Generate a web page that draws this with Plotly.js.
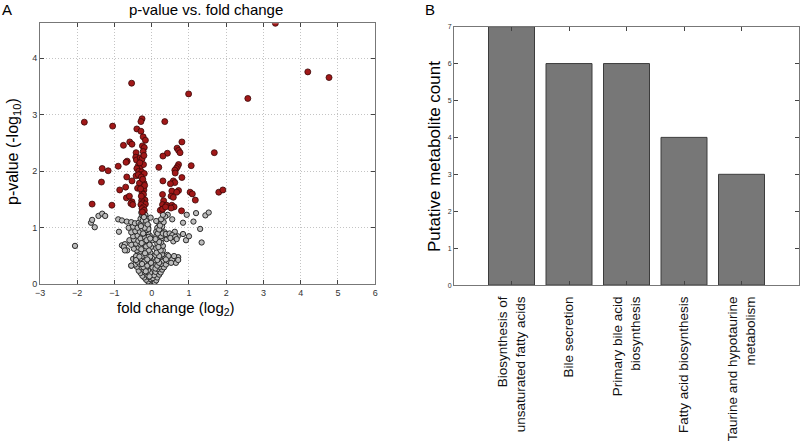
<!DOCTYPE html>
<html>
<head>
<meta charset="utf-8">
<script src="https://cdn.plot.ly/plotly-3.0.1.min.js"></script>
<style>html,body{margin:0;padding:0;background:#fff;}#chart{width:800px;height:444px;}</style>
</head>
<body>
<div id="chart"></div>
<script>
// Panel A: significant metabolites (red)
const sigFC = [3.32,4.19,4.76,-0.54,0.99,2.58,-1.81,-1.05,0.35,-0.26,-0.29,-0.40,-0.29,-0.23,
 0.81,-0.59,-0.53,-0.76,-0.25,-0.20,0.68,0.72,0.76,1.68,0.42,0.30,-0.42,-0.43,-0.41,-0.31,-0.26,
 -0.66,-0.69,-0.36,-0.31,-0.22,0.72,0.69,0.66,1.06,0.19,-0.90,-1.33,-1.17,-0.40,-0.35,-0.27,-0.30,-0.20,
 0.62,0.63,0.81,-0.67,-0.42,-0.36,-0.28,0.30,-0.53,-1.35,0.58,0.62,0.50,-0.27,-0.21,-0.33,
 -0.70,-0.38,-0.22,-0.86,0.54,0.72,0.67,0.29,1.03,1.09,0.52,0.58,-0.21,-0.26,-0.22,1.80,1.91,-0.68,-0.60,-0.53,
 -0.25,-0.18,-0.27,0.32,0.29,0.40,0.28,1.17,-0.56,-0.51,-1.60,-1.07,0.54,0.60,0.52,-0.24,-0.17,-0.29,-0.22,-0.26,-0.20,-0.25,
 0.80,0.23,0.29,0.37,-0.17,-0.32,-0.24,-0.19,-0.28,-0.23,-0.30,-0.21];
const sigP = [4.62,3.76,3.66,3.56,3.37,3.29,2.87,2.80,2.88,2.93,2.88,2.75,2.71,2.61,
 2.52,2.52,2.48,2.46,2.45,2.42,2.41,2.37,2.33,2.33,2.32,2.27,2.33,2.25,2.20,2.24,2.22,
 2.18,2.16,2.10,2.07,2.12,2.12,2.08,2.05,2.10,2.07,2.09,2.05,2.01,2.05,2.00,1.99,1.94,1.96,
 2.02,1.97,1.89,1.90,1.92,1.94,1.90,1.83,1.83,1.81,1.83,1.80,1.78,1.81,1.79,1.79,
 1.72,1.70,1.73,1.67,1.65,1.66,1.63,1.59,1.63,1.60,1.56,1.54,1.67,1.62,1.59,1.63,1.67,1.53,1.56,1.46,
 1.52,1.49,1.48,1.48,1.41,1.40,1.33,1.49,1.43,1.41,1.42,1.40,1.40,1.37,1.35,1.44,1.42,1.41,1.37,1.34,1.31,1.28,
 1.30,1.31,1.33,1.37,2.55,2.15,1.86,1.75,1.56,2.35,1.69,2.28];

// Panel A: non-significant metabolites (grey)
const nsFC = [-0.05,0.00,0.05,-0.10,0.08,-0.15,0.12,-0.02,0.03,-0.20,-0.08,0.15,-0.25,-0.12,0.06,0.20,-0.30,-0.18,-0.04,0.10,0.24,-0.35,-0.22,-0.10,0.16,0.28,-0.28,-0.15,0.02,0.22,0.33,-0.40,
 -0.45,-0.32,-0.20,-0.08,0.12,0.25,0.38,-0.38,-0.25,-0.13,-0.02,0.18,0.30,0.45,0.58,-0.50,-0.42,-0.30,-0.18,-0.06,0.14,0.22,0.35,0.50,0.71,-0.35,-0.22,-0.10,0.10,0.20,0.28,0.42,0.65,0.71,-0.55,-0.28,-0.15,-0.04,0.16,0.30,-0.40,
 -0.80,-0.72,-0.75,-0.66,-0.72,-0.48,-0.35,-0.24,-0.12,-0.02,0.12,0.22,0.30,-0.55,-0.42,-0.30,-0.18,-0.08,0.15,0.25,0.58,-0.60,-0.48,-0.36,-0.24,-0.12,0.02,0.18,0.28,0.40,0.65,0.92,1.34,-0.88,-0.50,-0.38,-0.26,-0.16,-0.05,0.12,0.22,0.32,0.45,0.60,0.70,0.84,1.00,
 -0.55,-0.44,-0.32,-0.20,-0.10,0.12,0.25,0.35,0.62,1.30,-0.62,-0.50,-0.38,-0.27,-0.16,0.15,0.28,-1.53,-1.63,-1.60,-0.90,-0.80,-0.67,-0.55,-0.45,-0.35,-0.25,-0.15,0.20,0.32,0.55,0.84,1.12,-1.43,-1.33,-1.25,-0.30,-0.20,-0.12,0.25,0.43,0.36,0.94,1.19,1.44,1.53,-0.26,-0.17,-0.22,-0.28,0.30,-2.06,-0.55,-0.42,-0.42,
 -0.22,-0.12,-0.20,-0.08,-0.25,-0.14,-0.04,-0.20,-0.08,-0.28,-0.15,-0.22,-0.10,-0.30,-0.18,-0.08,-0.22,-0.13,-0.25,-0.10,-0.20,-0.30,-0.24,-0.15,
 0.10,0.15,0.20,0.15,0.20,0.13,0.24,0.18,0.20,0.10,0.25,0.16,0.20,0.22,0.12,
 0.45,0.55,0.60,0.52,0.38,0.30,0.38,0.48,0.55,0.63,0.67,0.50,
 -0.06,-0.16,-0.26,-0.02,-0.12,-0.33,-0.18,-0.06,-0.27,-0.14,-0.04,-0.23,-0.09,-0.19,-0.29,-0.11,-0.03,-0.21];
const nsP = [0.02,0.03,0.01,0.05,0.04,0.08,0.07,0.09,0.11,0.12,0.13,0.12,0.15,0.17,0.16,0.17,0.20,0.21,0.20,0.22,0.21,0.24,0.26,0.25,0.27,0.26,0.30,0.29,0.30,0.31,0.30,0.31,
 0.35,0.36,0.34,0.35,0.35,0.36,0.35,0.40,0.41,0.39,0.42,0.40,0.42,0.41,0.40,0.45,0.48,0.46,0.47,0.45,0.46,0.48,0.47,0.46,0.48,0.52,0.53,0.51,0.52,0.55,0.53,0.52,0.38,0.43,0.33,0.57,0.58,0.56,0.58,0.60,0.60,
 0.69,0.71,0.66,0.60,0.60,0.63,0.65,0.64,0.63,0.66,0.64,0.66,0.68,0.70,0.72,0.70,0.71,0.73,0.72,0.74,0.76,0.78,0.79,0.77,0.79,0.80,0.78,0.80,0.82,0.80,0.82,0.78,0.74,0.93,0.85,0.86,0.84,0.87,0.86,0.85,0.88,0.87,0.86,0.88,0.85,0.89,0.85,
 0.92,0.94,0.93,0.95,0.92,0.93,0.94,0.92,0.93,0.98,1.00,1.02,1.00,1.02,1.01,1.00,1.02,1.01,1.09,1.14,1.15,1.13,1.11,1.10,1.08,1.09,1.10,1.08,1.08,1.10,1.15,1.09,1.11,1.21,1.25,1.21,1.16,1.17,1.15,1.15,1.23,1.20,1.23,1.26,1.22,1.27,1.22,1.23,1.20,1.27,1.23,0.68,0.33,0.50,0.43,
 0.30,0.33,0.40,0.42,0.50,0.50,0.49,0.60,0.60,0.62,0.67,0.75,0.76,0.81,0.83,0.84,0.90,0.96,0.98,1.04,1.05,1.06,1.13,1.12,
 0.28,0.33,0.38,0.43,0.50,0.56,0.60,0.66,0.75,0.80,0.85,0.90,0.97,1.04,1.12,
 0.50,0.44,0.50,0.38,0.44,0.90,0.89,0.90,0.87,0.84,0.80,0.82,
 0.14,0.23,0.36,0.38,0.44,0.49,0.55,0.70,0.73,0.78,0.81,0.90,0.98,1.00,1.03,1.06,1.18,1.19];

// Panel B
const pathways = ["Biosynthesis of<br>unsaturated fatty acids","Bile secretion","Primary bile acid<br>biosynthesis","Fatty acid biosynthesis","Taurine and hypotaurine<br>metabolism"];
const counts = [7,6,6,4,3];
const xTicksA = [-3,-2,-1,0,1,2,3,4,5,6];
const yTicksA = [0,1,2,3,4];
const yTicksB = [0,1,2,3,4,5,6,7];

const FONT = "Liberation Sans, Arial, sans-serif";

const traces = [
  {x: nsFC, y: nsP, type: 'scatter', mode: 'markers', xaxis: 'x', yaxis: 'y',
   marker: {size: 5.3, color: '#bcbcbc', line: {color: '#2a2a2a', width: 1}}, hoverinfo: 'skip'},
  {x: sigFC, y: sigP, type: 'scatter', mode: 'markers', xaxis: 'x', yaxis: 'y',
   marker: {size: 6, color: '#a11818', line: {color: '#3a0808', width: 0.8}}, hoverinfo: 'skip'},
  {x: pathways, y: counts, type: 'bar', xaxis: 'x2', yaxis: 'y2', width: 0.8,
   marker: {color: '#777777', line: {color: '#3c3c3c', width: 1}}}
];

const axBase = {ticks: 'inside', ticklen: 4, tickcolor: '#444', showline: true, linecolor: '#777', linewidth: 1,
  mirror: 'ticks', zeroline: false, tickfont: {family: FONT, color: '#333'}};

const layout = {
  width: 800, height: 444, showlegend: false,
  margin: {l: 0, r: 0, t: 0, b: 0},
  paper_bgcolor: '#fff', plot_bgcolor: '#fff',
  font: {family: FONT, color: '#000'},
  xaxis: Object.assign({}, axBase, {domain: [0.05, 0.469], anchor: 'y', range: [-3, 6],
    tickmode: 'array', tickvals: xTicksA, ticktext: xTicksA.map(v => v < 0 ? '\u2212' + Math.abs(v) : String(v)),
    tickfont: {family: FONT, color: '#333', size: 9},
    showgrid: true, gridcolor: '#c4c4c4', griddash: '1px,2px', gridwidth: 1}),
  yaxis: Object.assign({}, axBase, {domain: [0.3597, 0.9475], anchor: 'x', range: [0, 4.62],
    tickmode: 'array', tickvals: yTicksA, tickfont: {family: FONT, color: '#333', size: 9},
    showgrid: true, gridcolor: '#c4c4c4', griddash: '1px,2px', gridwidth: 1}),
  xaxis2: Object.assign({}, axBase, {domain: [0.5675, 0.99875], anchor: 'y2', type: 'category', range: [-1, 5],
    tickangle: -90, ticklabelstandoff: 5, tickfont: {family: FONT, color: '#111', size: 13.5}, showgrid: false}),
  yaxis2: Object.assign({}, axBase, {domain: [0.358, 0.94], anchor: 'x2', range: [0, 7],
    tickmode: 'array', tickvals: yTicksB, tickfont: {family: FONT, color: '#333', size: 7}, showgrid: false}),
  annotations: [
    {text: 'A', xref: 'paper', yref: 'paper', x: 7/800, y: 1 - 10/444, xanchor: 'center', yanchor: 'middle', showarrow: false, font: {size: 15, family: FONT}},
    {text: 'B', xref: 'paper', yref: 'paper', x: 430/800, y: 1 - 9/444, xanchor: 'center', yanchor: 'middle', showarrow: false, font: {size: 15, family: FONT}},
    {text: 'p-value vs. fold change', xref: 'paper', yref: 'paper', x: 206/800, y: 1 - 10/444, xanchor: 'center', yanchor: 'middle', showarrow: false, font: {size: 15, family: FONT}},
    {text: 'fold change (log<sub>2</sub>)', xref: 'paper', yref: 'paper', x: 176/800, y: 1 - 308/444, xanchor: 'center', yanchor: 'middle', showarrow: false, font: {size: 15, family: FONT}},
    {text: 'p-value (-log<sub>10</sub>)', xref: 'paper', yref: 'paper', x: 13/800, y: 1 - 152/444, xanchor: 'center', yanchor: 'middle', textangle: -90, showarrow: false, font: {size: 16, family: FONT}},
    {text: 'Putative metabolite count', xref: 'paper', yref: 'paper', x: 434/800, y: 1 - 157/444, xanchor: 'center', yanchor: 'middle', textangle: -90, showarrow: false, font: {size: 17, family: FONT}}
  ]
};

Plotly.newPlot('chart', traces, layout, {staticPlot: true, displayModeBar: false});
</script>
</body>
</html>
